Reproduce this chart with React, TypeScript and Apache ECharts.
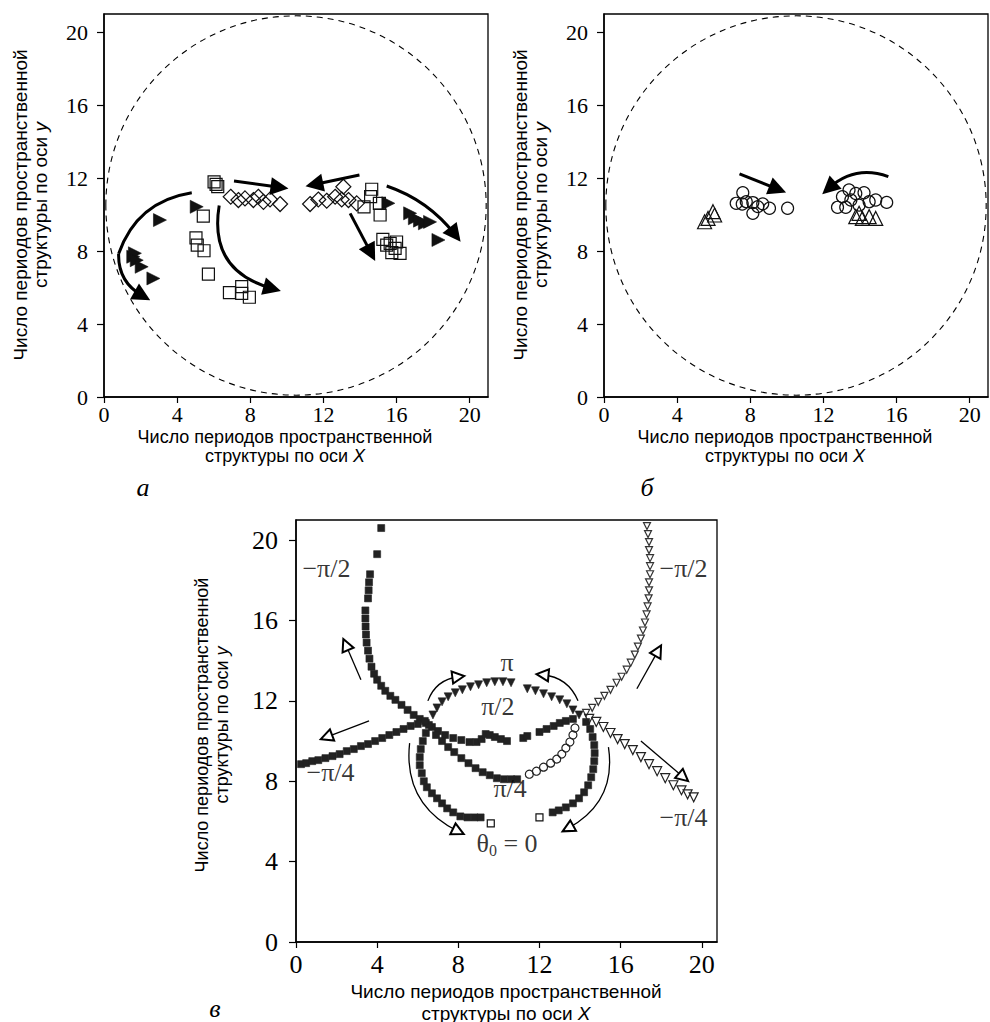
import React, { useEffect, useRef } from 'react';
import * as echarts from 'echarts';

type P = [number, number];
type Arrow = { from: P; to: P; curve: number };

// ---------- shared ticks ----------
const tickValues = [0, 4, 8, 12, 16, 20];

// ---------- panel а ----------
const aSquares: P[] = [
  [6.02, 11.8], [6.22, 11.53], [6.13, 11.66], [5.43, 9.92], [5.03, 8.73], [5.1, 8.33],
  [5.47, 8.02], [5.71, 6.74], [6.86, 5.72], [7.53, 6.05], [7.53, 5.68], [7.95, 5.47],
  [14.64, 11.39], [14.58, 10.99], [15.06, 10.62], [14.22, 10.43], [15.1, 9.98],
  [15.25, 8.64], [15.65, 8.42], [15.92, 8.15], [16.19, 7.88], [15.74, 7.92], [15.46, 8.33], [16.0, 8.5],
];
const aDiamonds: P[] = [
  [6.93, 10.98], [7.35, 10.8], [7.71, 10.89], [8.17, 10.8], [8.44, 10.98], [8.72, 10.7], [9.08, 10.83], [9.63, 10.58],
  [11.27, 10.58], [11.72, 10.83], [12.18, 10.76], [13.09, 11.53], [13.0, 10.83], [13.37, 10.8], [13.82, 10.62], [12.64, 10.98],
];
const aTriangles: P[] = [
  [1.6, 7.69], [1.69, 7.88], [1.79, 7.5], [2.06, 7.14], [2.7, 6.5], [3.06, 9.7], [5.07, 10.43],
  [16.74, 10.07], [17.0, 9.8], [17.28, 9.67], [17.55, 9.52], [17.83, 9.6], [15.55, 10.62], [18.29, 8.61],
];
const aArrowsPlain: Arrow[] = [{ from: [4.8, 11.2], to: [0.8, 7.85], curve: -0.3 }];
const aArrows: Arrow[] = [
  { from: [0.8, 7.85], to: [2.1, 5.55], curve: -0.3 },
  { from: [6.3, 10.5], to: [9.2, 5.95], curve: -0.45 },
  { from: [7.11, 11.84], to: [9.6, 11.5], curve: 0 },
  { from: [13.97, 12.17], to: [11.5, 11.65], curve: 0 },
  { from: [13.46, 10.07], to: [14.6, 7.9], curve: 0 },
  { from: [15.46, 11.57], to: [19.2, 8.9], curve: 0.15 },
];

// ---------- panel б ----------
const bCircles: P[] = [
  [7.59, 11.2], [7.23, 10.62], [7.78, 10.71], [8.14, 10.66], [8.41, 10.44], [8.14, 10.07], [9.05, 10.35],
  [8.68, 10.59], [10.04, 10.35], [7.56, 10.58],
  [13.04, 10.98], [12.77, 10.4], [13.5, 10.8], [13.77, 11.16], [14.22, 11.2], [14.5, 10.71], [14.86, 10.8],
  [15.46, 10.67], [13.22, 10.4], [13.4, 11.35], [13.95, 10.52],
];
const bTriangles: P[] = [
  [5.96, 10.16], [5.69, 9.79], [5.5, 9.61], [6.05, 9.98],
  [13.77, 9.89], [14.13, 9.79], [14.5, 9.89], [14.86, 9.79], [13.95, 10.07],
];
const bArrows: Arrow[] = [
  { from: [7.41, 12.23], to: [9.5, 11.4], curve: 0 },
  { from: [15.55, 12.08], to: [12.3, 11.45], curve: -0.3 },
];

// boundary ring (centre x, centre y, radius) for panels а and б
const ring: [number, number, number][] = [[10.5, 10.5, 10.4]];

// ---------- panel в ----------
const vMinusHalfPiLeft: P[] = [
  [4.2, 20.6], [4.0, 19.3], [3.65, 18.3], [3.6, 17.9], [3.58, 17.5], [3.55, 17.1], [3.42, 16.5], [3.42, 16.1],
  [3.43, 15.7], [3.45, 15.3], [3.48, 14.9], [3.55, 14.5], [3.62, 14.1], [3.72, 13.7], [3.85, 13.35], [4.0, 13.05],
  [4.2, 12.75], [4.4, 12.5], [4.65, 12.25], [4.9, 12.05], [5.2, 11.8], [5.5, 11.55], [5.8, 11.3], [6.1, 11.1],
  [6.4, 10.9], [6.7, 10.7], [7.0, 10.5], [7.35, 10.3], [7.75, 10.15], [8.15, 10.05], [8.55, 9.95], [8.9, 9.95],
  [9.15, 10.1], [9.35, 10.35], [9.55, 10.3], [9.8, 10.2], [10.1, 10.1], [10.4, 10.0],
];
const vHalfPiMid: P[] = [
  [11.2, 10.15], [11.4, 10.25], [12.0, 10.45], [12.35, 10.6], [12.7, 10.75], [13.0, 10.9], [13.3, 11.0], [13.65, 11.1],
];
const vMinusHalfPiRight: P[] = [
  [17.3, 20.7], [17.35, 20.3], [17.4, 19.9], [17.4, 19.5], [17.45, 19.1], [17.45, 18.7], [17.45, 18.3], [17.4, 17.9],
  [17.4, 17.5], [17.38, 17.1], [17.33, 16.7], [17.28, 16.3], [17.2, 15.9], [17.1, 15.5], [17.0, 15.1], [16.85, 14.7],
  [16.7, 14.3], [16.5, 13.9], [16.3, 13.55], [16.05, 13.2], [15.8, 12.9], [15.5, 12.55], [15.2, 12.25], [14.9, 11.95],
  [14.6, 11.65], [14.3, 11.4],
];
const vPiArc: P[] = [
  [6.75, 11.3], [6.95, 11.65], [7.2, 11.95], [7.5, 12.2], [7.85, 12.4], [8.2, 12.55], [8.6, 12.7], [9.0, 12.8],
  [9.4, 12.9], [9.8, 12.95], [10.2, 12.95], [10.6, 12.9], [11.4, 12.6], [11.8, 12.5], [12.2, 12.35], [12.6, 12.2],
  [13.0, 12.05], [13.35, 11.85], [13.65, 11.55], [13.95, 11.3],
];
const vZeroLeft: P[] = [
  [6.55, 10.8], [6.4, 10.4], [6.25, 10.0], [6.15, 9.6], [6.1, 9.2], [6.1, 8.8], [6.2, 8.4], [6.3, 8.0], [6.45, 7.7],
  [6.7, 7.4], [6.95, 7.15], [7.2, 6.9], [7.45, 6.65], [7.75, 6.45], [8.1, 6.25], [8.45, 6.2], [8.8, 6.2], [9.1, 6.2],
];
const vZeroRight: P[] = [
  [14.3, 10.95], [14.5, 10.6], [14.62, 10.2], [14.7, 9.8], [14.72, 9.4], [14.7, 9.0], [14.65, 8.6], [14.55, 8.2],
  [14.4, 7.8], [14.2, 7.45], [13.95, 7.15], [13.65, 6.9], [13.3, 6.7], [12.95, 6.55], [12.65, 6.45],
];
const vZeroEnds: P[] = [[9.6, 5.9], [12.0, 6.2]];
const vQuarterLeft: P[] = [
  [6.9, 10.3], [7.2, 10.0], [7.5, 9.7], [7.8, 9.45], [8.15, 9.15], [8.5, 8.9], [8.85, 8.65], [9.2, 8.45], [9.55, 8.3],
  [9.9, 8.15], [10.25, 8.1], [10.6, 8.1], [10.9, 8.1],
];
const vQuarterRight: P[] = [
  [11.5, 8.35], [11.85, 8.5], [12.2, 8.7], [12.55, 8.9], [12.85, 9.1], [13.1, 9.35], [13.3, 9.65], [13.5, 9.95],
  [13.65, 10.3], [13.75, 10.65],
];
const vMinusQuarterLeft: P[] = [
  [0.25, 8.85], [0.5, 8.9], [0.8, 9.0], [1.1, 9.05], [1.45, 9.15], [1.8, 9.25], [2.15, 9.35], [2.5, 9.5], [2.85, 9.6],
  [3.2, 9.75], [3.55, 9.85], [3.9, 10.0], [4.25, 10.15], [4.6, 10.3], [4.95, 10.45], [5.3, 10.6], [5.65, 10.75],
  [6.0, 10.85], [6.35, 11.0],
];
const vMinusQuarterRight: P[] = [
  [14.45, 11.1], [14.8, 10.95], [15.15, 10.7], [15.5, 10.4], [15.85, 10.1], [16.2, 9.85], [16.6, 9.55], [17.0, 9.2],
  [17.4, 8.85], [17.8, 8.5], [18.2, 8.15], [18.6, 7.8], [19.0, 7.55], [19.3, 7.35], [19.6, 7.2],
];
const vArrows: Arrow[] = [
  { from: [3.2, 13.05], to: [2.45, 14.8], curve: 0 },
  { from: [3.6, 11.0], to: [1.5, 10.2], curve: 0 },
  { from: [16.8, 12.6], to: [17.85, 14.5], curve: 0 },
  { from: [17.0, 10.0], to: [19.1, 8.2], curve: 0 },
  { from: [6.5, 12.0], to: [8.0, 13.2], curve: 0.3 },
  { from: [13.9, 12.0], to: [12.15, 13.3], curve: -0.3 },
  { from: [5.6, 9.9], to: [8.0, 5.5], curve: -0.35 },
  { from: [15.4, 9.7], to: [13.4, 5.65], curve: 0.35 },
];
const vLabelText = ['π', 'π/2', 'π/4', '{a|θ}{s|0}{a| = 0}', '−π/4', '−π/4', '−π/2', '−π/2'];
const vLabelPos: P[] = [
  [10.4, 13.9], [9.95, 11.7], [10.55, 7.65], [10.4, 4.9], [1.7, 8.45], [19.1, 6.2], [1.5, 18.6], [19.1, 18.6],
];

// ---------- styling helpers ----------
const SERIF = 'Liberation Serif';
const SANS = 'Liberation Sans';

function tickLabel(fs: number, margin: number) {
  return {
    show: true, customValues: tickValues, color: '#000', fontFamily: SERIF, fontSize: fs, margin,
    formatter: (v: number) => '{t|' + v + '}',
    rich: { t: { fontFamily: SERIF, fontSize: fs, color: '#000', fontWeight: 'normal' } },
  };
}
function xAxis(gi: number, max: number, fs: number, margin: number) {
  return {
    type: 'value', gridIndex: gi, min: 0, max,
    axisLine: { show: true, onZero: false, lineStyle: { color: '#000', width: 1.5 } },
    axisTick: { show: true, customValues: tickValues, length: 6, lineStyle: { color: '#000', width: 1.2 } },
    axisLabel: tickLabel(fs, margin),
    splitLine: { show: false },
  };
}
function yAxis(gi: number, max: number, fs: number, margin: number) {
  return {
    type: 'value', gridIndex: gi, min: 0, max,
    axisLine: { show: true, onZero: false, lineStyle: { color: '#000', width: 1.5 } },
    axisTick: { show: true, customValues: tickValues, length: 7, lineStyle: { color: '#000', width: 1.2 } },
    axisLabel: tickLabel(fs, margin),
    splitLine: { show: false },
  };
}
function scatter(data: P[], gi: number, symbol: string, size: number, filled: boolean, rotate = 0, color = '#111') {
  return {
    type: 'scatter', xAxisIndex: gi, yAxisIndex: gi, data, symbol, symbolSize: size, symbolRotate: rotate,
    silent: true, z: 3,
    itemStyle: filled
      ? { color, borderColor: color, borderWidth: 0.6, opacity: 1 }
      : { color: 'rgba(255,255,255,0)', borderColor: color, borderWidth: 1.2, opacity: 1 },
  };
}
function arrows(list: Arrow[], gi: number, width: number, head: string, headSize: number) {
  return {
    type: 'lines', coordinateSystem: 'cartesian2d', xAxisIndex: gi, yAxisIndex: gi, silent: true, z: 4,
    symbol: ['none', head], symbolSize: headSize,
    lineStyle: { color: '#000', width, opacity: 1 },
    data: list.map((a) => ({ coords: [a.from, a.to], lineStyle: { curveness: a.curve } })),
  };
}
function ringSeries(gi: number) {
  return {
    type: 'custom', xAxisIndex: gi, yAxisIndex: gi, data: ring, silent: true, z: 1,
    renderItem: (_p: any, api: any) => {
      const c = api.coord([api.value(0), api.value(1)]);
      const s = api.size([api.value(2), api.value(2)]);
      return {
        type: 'ellipse',
        shape: { cx: c[0], cy: c[1], rx: s[0], ry: s[1] },
        style: { fill: 'none', stroke: '#000', lineWidth: 1.1, lineDash: [6, 5] },
      };
    },
  };
}
function axisTitle(x: number, y: number, letter: string, fs: number, lh: number, vertical: boolean) {
  return {
    type: 'text', x, y, rotation: vertical ? Math.PI / 2 : 0, silent: true,
    style: {
      text: 'Число периодов пространственной\nструктуры по оси {i|' + letter + '}',
      fontFamily: SANS, fontSize: fs, fill: '#000', align: 'center', verticalAlign: 'middle', lineHeight: lh,
      rich: { i: { fontFamily: SANS, fontSize: fs, fontStyle: 'italic', fill: '#000', lineHeight: lh } },
    },
  };
}
function panelLetter(x: number, y: number, t: string) {
  return {
    type: 'text', x, y, silent: true,
    style: { text: t, fontFamily: SERIF, fontSize: 26, fontStyle: 'italic', fill: '#000', align: 'center', verticalAlign: 'middle' },
  };
}

const gridBase = { show: true, borderColor: '#000', borderWidth: 1.3, backgroundColor: 'transparent' };

const option: any = {
  animation: false,
  backgroundColor: '#fff',
  textStyle: { fontFamily: SERIF },
  grid: [
    { ...gridBase, left: 104, top: 14, width: 384, height: 383 },
    { ...gridBase, left: 604, top: 14, width: 384, height: 383 },
    { ...gridBase, left: 296, top: 520, width: 421, height: 422 },
  ],
  xAxis: [xAxis(0, 21, 22, 6), xAxis(1, 21, 22, 6), xAxis(2, 20.75, 26, 9)],
  yAxis: [yAxis(0, 21, 22, 16), yAxis(1, 21, 22, 16), yAxis(2, 21, 26, 18)],
  graphic: [
    axisTitle(285, 446, 'X', 18, 19, false),
    axisTitle(785, 446, 'X', 18, 19, false),
    axisTitle(506, 1002, 'X', 19, 22, false),
    axisTitle(30, 205, 'y', 19, 20, true),
    axisTitle(530, 205, 'y', 19, 20, true),
    axisTitle(212, 725, 'y', 18, 20, true),
    panelLetter(143, 487, 'а'),
    panelLetter(647, 487, 'б'),
    panelLetter(215, 1008, 'в'),
  ],
  series: [
    // panel а
    ringSeries(0),
    scatter(aSquares, 0, 'rect', 12, false),
    scatter(aDiamonds, 0, 'diamond', 15, false),
    scatter(aTriangles, 0, 'triangle', 13, true, -90),
    arrows(aArrowsPlain, 0, 3, 'none', 1),
    arrows(aArrows, 0, 3, 'triangle', 18),
    // panel б
    ringSeries(1),
    scatter(bCircles, 1, 'circle', 12, false),
    scatter(bTriangles, 1, 'triangle', 14, false),
    arrows(bArrows, 1, 3, 'triangle', 18),
    // panel в
    scatter(vMinusHalfPiLeft, 2, 'rect', 7, true, 0, '#222'),
    scatter(vHalfPiMid, 2, 'rect', 7, true, 0, '#222'),
    scatter(vMinusHalfPiRight, 2, 'triangle', 7, false, 180, '#333'),
    scatter(vPiArc, 2, 'triangle', 8, true, 180, '#222'),
    scatter(vZeroLeft, 2, 'rect', 7, true, 0, '#222'),
    scatter(vZeroRight, 2, 'rect', 7, true, 0, '#222'),
    scatter(vZeroEnds, 2, 'rect', 7, false, 0, '#111'),
    scatter(vQuarterLeft, 2, 'rect', 7, true, 0, '#222'),
    scatter(vQuarterRight, 2, 'circle', 8, false, 0, '#222'),
    scatter(vMinusQuarterLeft, 2, 'rect', 7, true, 0, '#222'),
    scatter(vMinusQuarterRight, 2, 'triangle', 9, false, 180, '#222'),
    arrows(vArrows, 2, 1.3, 'emptyTriangle', 12),
    {
      type: 'scatter', xAxisIndex: 2, yAxisIndex: 2, symbolSize: 0.1, silent: true, z: 6,
      itemStyle: { color: 'rgba(0,0,0,0)' },
      data: vLabelPos.map((p, i) => ({ value: p, name: vLabelText[i] })),
      label: {
        show: true, position: 'inside', formatter: (p: any) => p.name, color: '#000',
        fontFamily: SERIF, fontSize: 26,
        rich: {
          a: { fontFamily: SERIF, fontSize: 26, color: '#000', lineHeight: 30, verticalAlign: 'middle' },
          s: { fontFamily: SERIF, fontSize: 16, color: '#000', lineHeight: 16, verticalAlign: 'bottom' },
        },
      },
    },
  ],
};

export default function App() {
  const ref = useRef<HTMLDivElement>(null);
  useEffect(() => {
    const chart = echarts.init(ref.current as HTMLDivElement, null, { renderer: 'svg' });
    chart.setOption(option);
    return () => chart.dispose();
  }, []);
  return (
    <div
      ref={ref}
      style={{ position: 'absolute', left: 0, top: 0, width: 990, height: 1022, background: '#fff' }}
    />
  );
}
